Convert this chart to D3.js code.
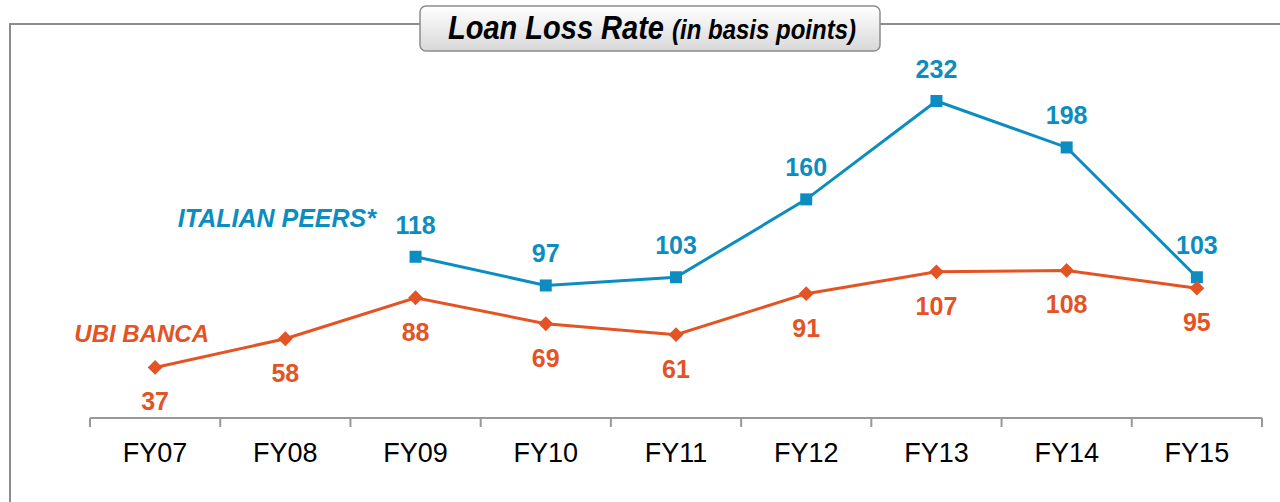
<!DOCTYPE html>
<html>
<head>
<meta charset="utf-8">
<script src="https://cdn.jsdelivr.net/npm/d3@7"></script>
<style>
  body { margin: 0; background: #fff; }
  svg { display: block; font-family: Arial, "Liberation Sans", sans-serif; }
</style>
</head>
<body>
<svg id="chart" width="1280" height="502"></svg>
<script>
// data
const years = ["FY07","FY08","FY09","FY10","FY11","FY12","FY13","FY14","FY15"]
const ubiValues = [37, 58, 88, 69, 61, 91, 107, 108, 95]
const peerYears = ["FY09","FY10","FY11","FY12","FY13","FY14","FY15"]
const peerValues = [118, 97, 103, 160, 232, 198, 103]

const blue = "#0b8dc1", orange = "#e45324"

const svg = d3.select("#chart")

// frame round the chart
svg.append("path")
    .attr("d", "M10,502 L10,24 L420,24 M880,24 L1280,24")
    .attr("fill", "none")
    .attr("stroke", "#8c8c8c")
    .attr("stroke-width", 2)

// title box with a soft grey gradient
const grad = svg.append("defs").append("linearGradient")
    .attr("id", "titleGrad").attr("x1", 0).attr("y1", 0).attr("x2", 0).attr("y2", 1)
grad.append("stop").attr("offset", "0%").attr("stop-color", "#ffffff")
grad.append("stop").attr("offset", "100%").attr("stop-color", "#d8d8d8")

svg.append("rect")
    .attr("x", 420).attr("y", 6).attr("width", 460).attr("height", 45)
    .attr("rx", 6)
    .attr("fill", "url(#titleGrad)")
    .attr("stroke", "#8c8c8c").attr("stroke-width", 1.5)

// title is a little taller than wide in the original, so stretch it
const title = svg.append("text")
    .attr("transform", "translate(652,39) scale(1,1.15)")
    .attr("text-anchor", "middle")
    .attr("font-weight", "bold").attr("font-style", "italic")
    .attr("fill", "#000")
title.append("tspan").attr("font-size", 29).text("Loan Loss Rate ")
title.append("tspan").attr("font-size", 24).text("(in basis points)")

// scales
let x = d3.scaleBand()
    .domain(years)
    .range([90, 1262])
let y = d3.scaleLinear()
    .domain([0, 232])
    .range([418, 101])

const cx = d => x(d) + x.bandwidth()/2

// x axis: baseline and ticks at band edges
const g = svg.append("g")
g.append("line")
    .attr("x1", x.range()[0]).attr("x2", x.range()[1])
    .attr("y1", 418).attr("y2", 418)
    .attr("stroke", "#999").attr("stroke-width", 2)
g.selectAll(".tick")
    .data(years.map(d => x(d)).concat([x.range()[1]]))
  .enter().append("line")
    .attr("x1", d => d).attr("x2", d => d)
    .attr("y1", 418).attr("y2", 427)
    .attr("stroke", "#999").attr("stroke-width", 2)
g.selectAll(".lab")
    .data(years)
  .enter().append("text")
    .attr("x", d => cx(d)).attr("y", 462)
    .attr("text-anchor", "middle")
    .attr("font-size", 27)
    .attr("fill", "#000")
    .text(d => d)

// lines
const ubiData = years.map((d, i) => ({yr: d, v: ubiValues[i]}))
const peerData = peerYears.map((d, i) => ({yr: d, v: peerValues[i]}))
const line = d3.line().x(d => cx(d.yr)).y(d => y(d.v))

svg.append("path").datum(peerData)
    .attr("d", line).attr("fill", "none")
    .attr("stroke", blue).attr("stroke-width", 3)
svg.append("path").datum(ubiData)
    .attr("d", line).attr("fill", "none")
    .attr("stroke", orange).attr("stroke-width", 3)

// markers
svg.selectAll(".sq").data(peerData).enter().append("rect")
    .attr("x", d => cx(d.yr) - 6).attr("y", d => y(d.v) - 6)
    .attr("width", 12).attr("height", 12)
    .attr("fill", blue)
svg.selectAll(".dia").data(ubiData).enter().append("path")
    .attr("d", d3.symbol().type(d3.symbolDiamond2).size(140))
    .attr("transform", d => "translate(" + cx(d.yr) + "," + y(d.v) + ")")
    .attr("fill", orange)

// value labels
svg.selectAll(".pl").data(peerData).enter().append("text")
    .attr("x", d => cx(d.yr)).attr("y", d => y(d.v) - 23)
    .attr("text-anchor", "middle")
    .attr("font-size", 25).attr("font-weight", "bold")
    .attr("fill", blue)
    .text(d => d.v)
svg.selectAll(".ul").data(ubiData).enter().append("text")
    .attr("x", d => cx(d.yr)).attr("y", d => y(d.v) + 43)
    .attr("text-anchor", "middle")
    .attr("font-size", 25).attr("font-weight", "bold")
    .attr("fill", orange)
    .text(d => d.v)

// series names
svg.append("text")
    .attr("x", 376).attr("y", 227)
    .attr("text-anchor", "end")
    .attr("font-size", 25).attr("font-weight", "bold").attr("font-style", "italic")
    .attr("fill", blue)
    .text("ITALIAN PEERS*")
svg.append("text")
    .attr("x", 209).attr("y", 342)
    .attr("text-anchor", "end")
    .attr("font-size", 24).attr("font-weight", "bold").attr("font-style", "italic")
    .attr("fill", orange)
    .text("UBI BANCA")
</script>
</body>
</html>
